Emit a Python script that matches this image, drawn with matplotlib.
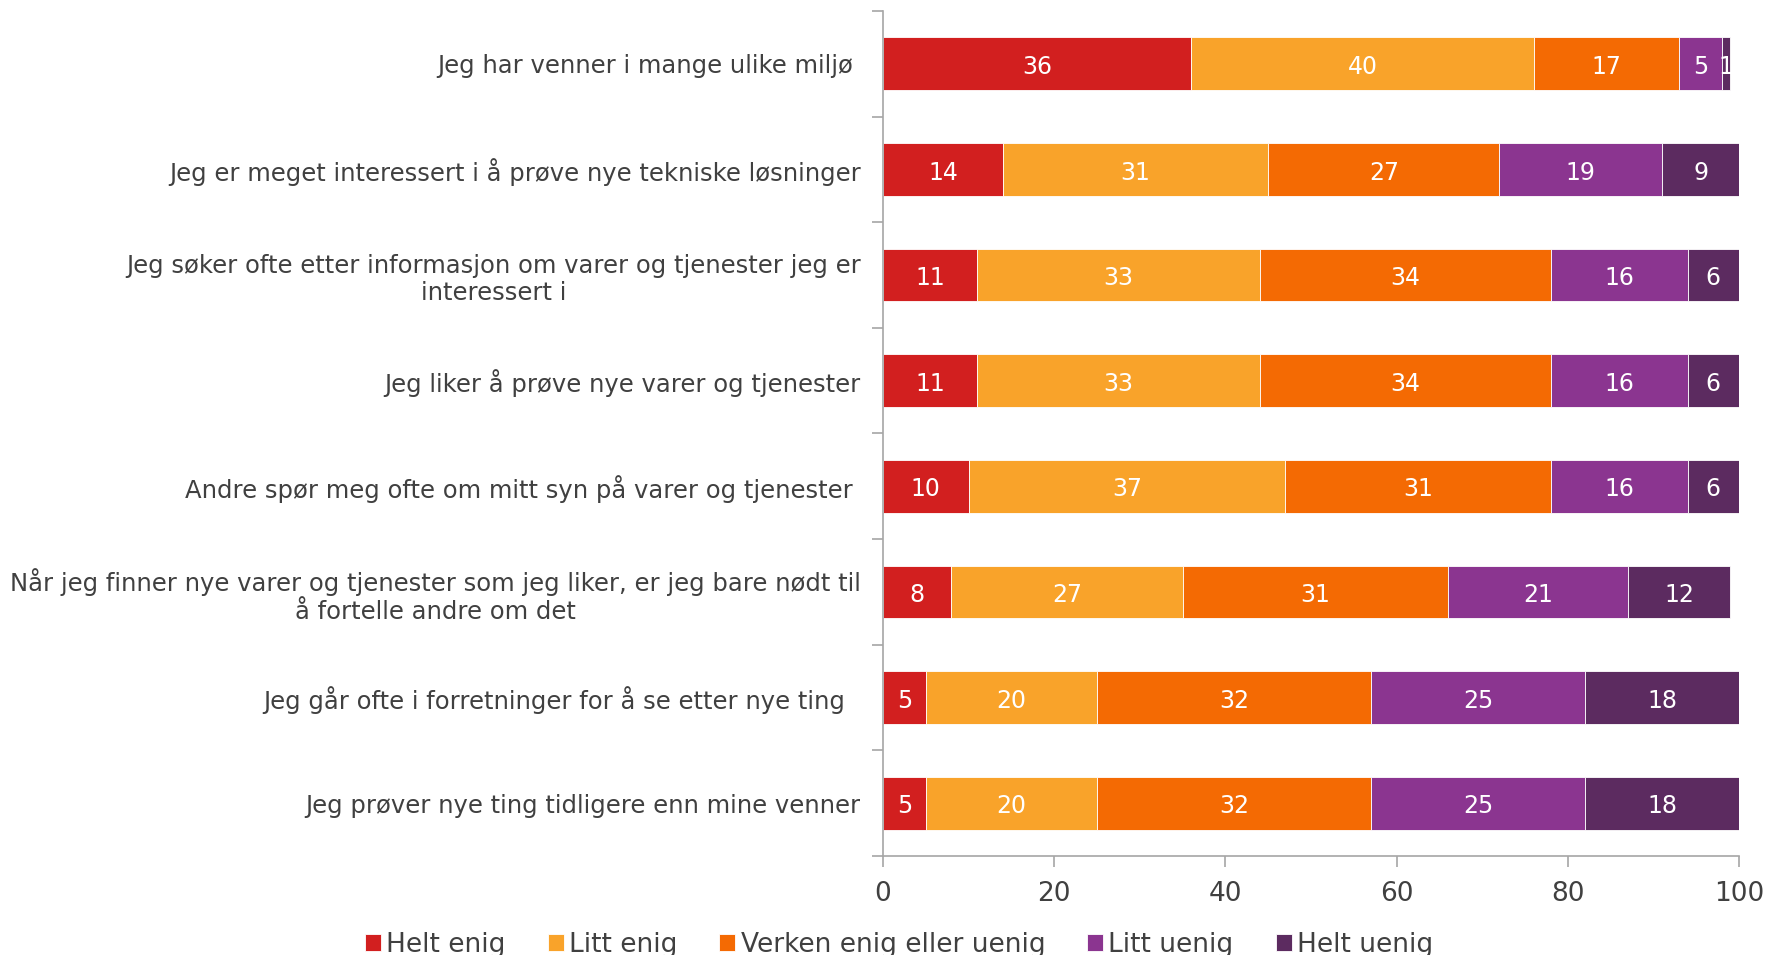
import matplotlib.pyplot as plt
import numpy as np

# ---------- Дані ----------
labels = [
    "Jeg har venner i mange ulike miljø ",
    "Jeg er meget interessert i å prøve nye tekniske løsninger",
    "Jeg søker ofte etter informasjon om varer og tjenester jeg er\ninteressert i",
    "Jeg liker å prøve nye varer og tjenester",
    "Andre spør meg ofte om mitt syn på varer og tjenester ",
    "Når jeg finner nye varer og tjenester som jeg liker, er jeg bare nødt til\nå fortelle andre om det",
    "Jeg går ofte i forretninger for å se etter nye ting  ",
    "Jeg prøver nye ting tidligere enn mine venner",
]
series_names = ["Helt enig", "Litt enig", "Verken enig eller uenig", "Litt uenig", "Helt uenig"]
helt_enig = [36, 14, 11, 11, 10, 8, 5, 5]
litt_enig = [40, 31, 33, 33, 37, 27, 20, 20]
verken = [17, 27, 34, 34, 31, 31, 32, 32]
litt_uenig = [5, 19, 16, 16, 16, 21, 25, 25]
helt_uenig = [1, 9, 6, 6, 6, 12, 18, 18]
colors = ["#D21F1F", "#F9A32A", "#F46A03", "#8B3590", "#5C2B60"]

text_col = "#404040"
axis_col = "#A6A6A6"

# ---------- Візуалізація ----------
fig = plt.figure(figsize=(17.82, 9.55), dpi=100)
ax = fig.add_axes([0.4955, 0.1037, 0.4804, 0.8848])

y = np.arange(len(labels))
left = np.zeros(len(labels))
for name, vals, col in zip(series_names, [helt_enig, litt_enig, verken, litt_uenig, helt_uenig], colors):
    vals = np.array(vals, dtype=float)
    ax.barh(y, vals, left=left, height=0.5, color=col, edgecolor="white",
            linewidth=0.6, label=name)
    for yi, l, v in zip(y, left, vals):
        ax.text(l + v / 2, yi + 0.03, f"{int(v)}", ha="center", va="center",
                color="white", fontsize=17)
    left += vals

ax.set_xlim(0, 100)
ax.set_ylim(len(labels) - 0.5, -0.5)
ax.set_xticks(range(0, 101, 20))
ax.set_yticks(y)
ax.set_yticklabels(labels, fontsize=17.5, color=text_col)
ax.set_yticks(np.arange(-0.5, len(labels)), minor=True)
ax.tick_params(axis="y", which="major", length=0, pad=16)
ax.tick_params(axis="y", which="minor", length=8, color=axis_col, width=1.2)
ax.tick_params(axis="x", length=8, color=axis_col, width=1.2,
               labelsize=19, labelcolor=text_col, pad=10)
for lab in ax.get_yticklabels():
    lab.set_multialignment("center")

for s in ["top", "right"]:
    ax.spines[s].set_visible(False)
for s in ["left", "bottom"]:
    ax.spines[s].set_color(axis_col)
    ax.spines[s].set_linewidth(1.2)

leg = fig.legend(loc="lower center", bbox_to_anchor=(0.5045, -0.028), ncol=5,
                 frameon=False, fontsize=19, handlelength=0.6, handleheight=0.6,
                 handletextpad=0.2, columnspacing=1.6)
for t in leg.get_texts():
    t.set_color(text_col)

plt.savefig("out.png", dpi=100)
